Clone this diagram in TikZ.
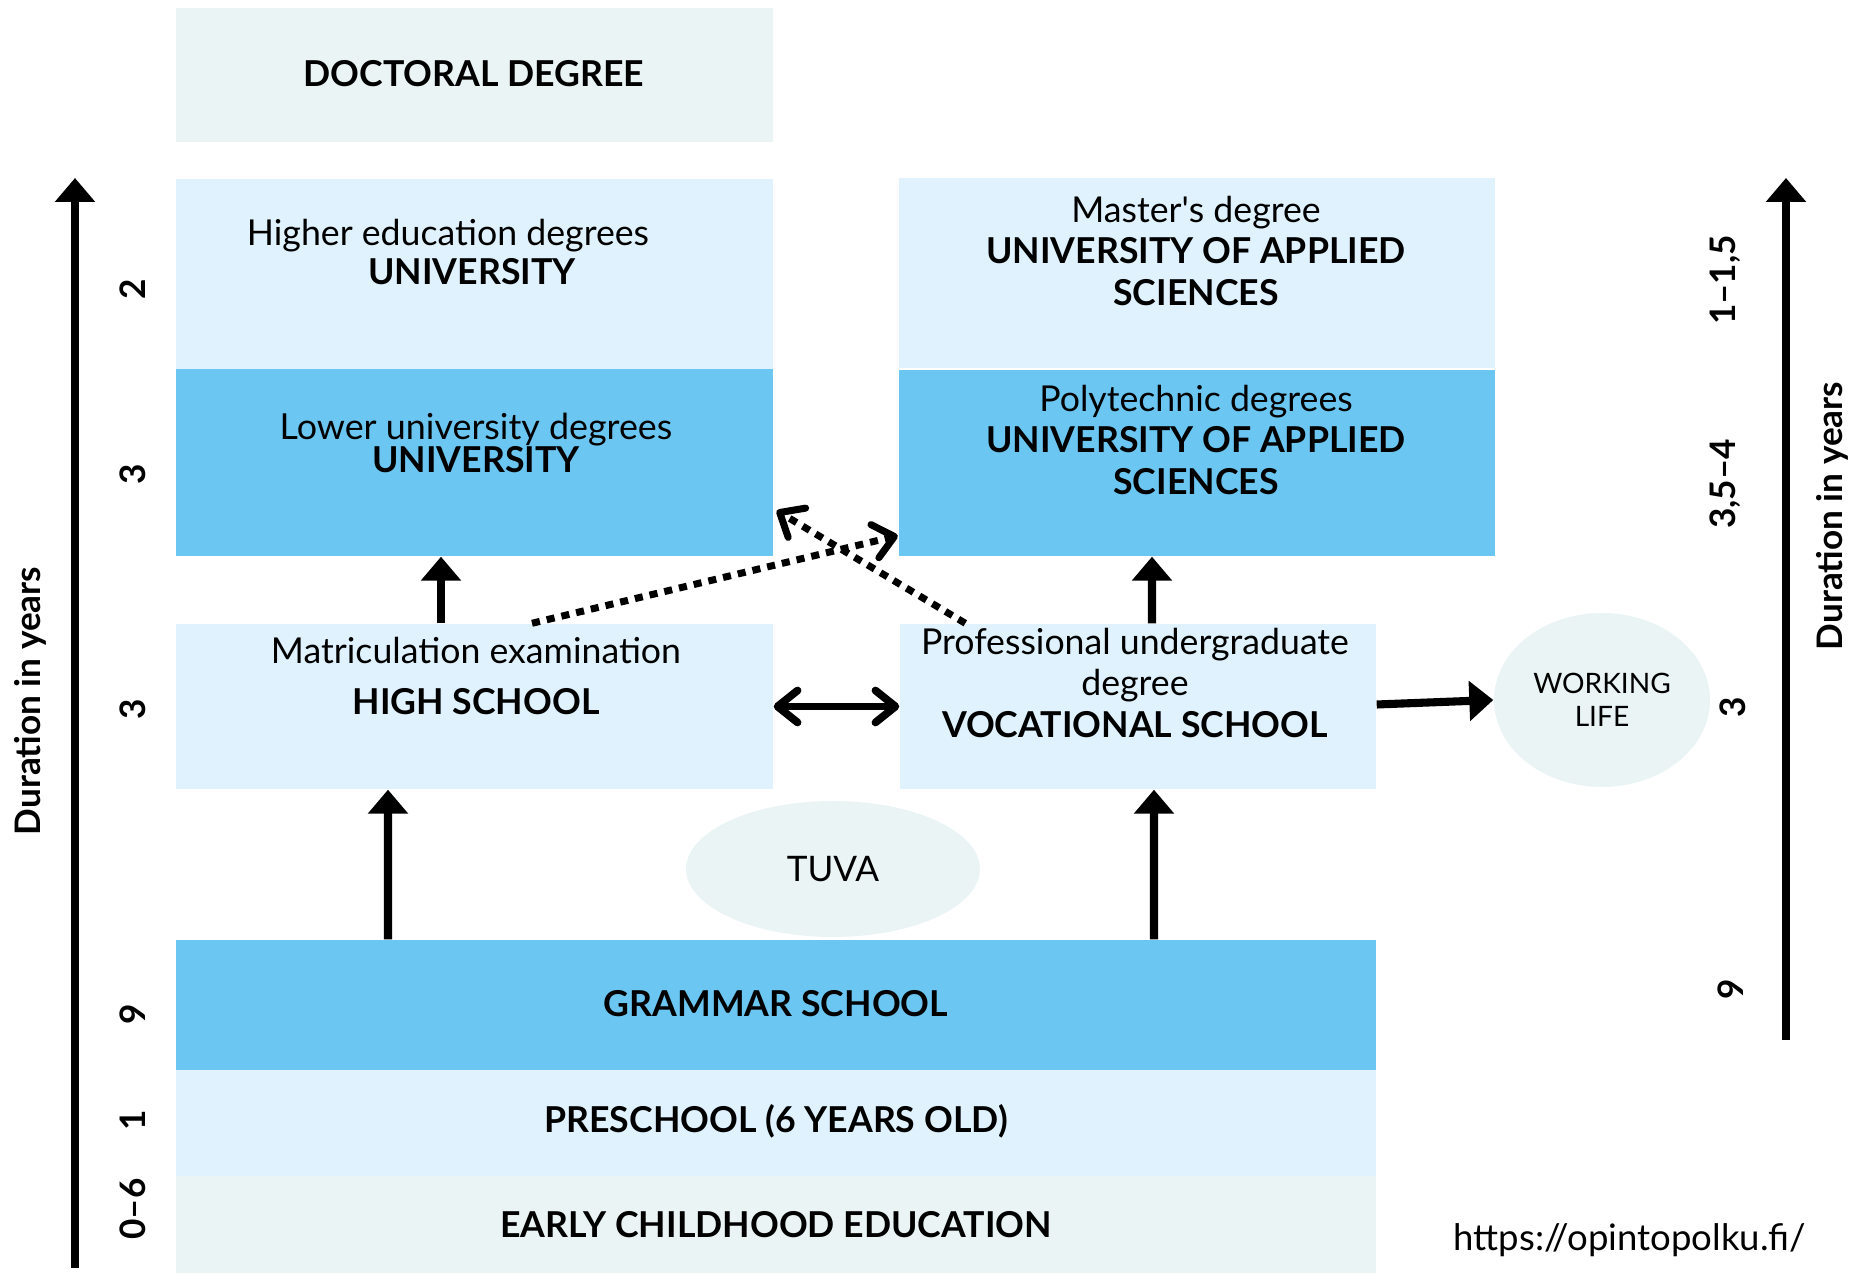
\documentclass[tikz,border=0pt]{standalone}
\usepackage{fontspec}
\setmainfont{Lato}
\usetikzlibrary{arrows.meta,shapes.geometric}
\definecolor{paleteal}{RGB}{234,244,245}
\definecolor{lightblue}{RGB}{224,242,254}
\definecolor{midblue}{RGB}{107,199,242}

\begin{document}
\begin{tikzpicture}[x=0.1mm, y=-0.1mm,
    box/.style={rectangle, inner sep=0pt, minimum width=59.7mm},
    lbl/.style={align=center, font=\fontsize{10.15}{11.9}\selectfont},
    yrs/.style={rotate=90, inner sep=0pt, font=\fontsize{10}{12}\selectfont\bfseries},
    up/.style={line width=2.3pt, -{Triangle[width=3.9mm,length=2.4mm]}},
    both/.style={line width=2.2pt, {Straight Barb[round,width=3.2mm,length=2mm]}-{Straight Barb[round,width=3.2mm,length=2mm]}},
    hop/.style={line width=2pt, dash pattern=on 2.3pt off 2pt, -{Straight Barb[round,width=3.4mm,length=2mm]}}]

    \useasboundingbox (0,0) rectangle (1865,1273);

    \node [box, fill=paleteal, minimum height=13.4mm] (doc) at (474.5, 75) {};
    \node [box, fill=lightblue, minimum height=19mm] (uni) at (474.5, 274) {};
    \node [box, fill=midblue, minimum height=18.7mm] (lowuni) at (474.5, 462.5) {};
    \node [box, fill=lightblue, minimum width=59.6mm, minimum height=19mm] (master) at (1196.5, 273) {};
    \node [box, fill=midblue, minimum width=59.6mm, minimum height=18.6mm] (poly) at (1196.5, 463) {};
    \node [box, fill=lightblue, minimum height=16.5mm] (hs) at (474.5, 706.5) {};
    \node [box, fill=lightblue, minimum width=47.6mm, minimum height=16.5mm] (voc) at (1138, 706.5) {};
    \node [box, fill=midblue, minimum width=120mm, minimum height=13mm] (gram) at (776, 1005) {};
    \node [box, fill=lightblue, minimum width=120mm, minimum height=10.6mm] (pre) at (776, 1123) {};
    \node [box, fill=paleteal, minimum width=120mm, minimum height=9.7mm] (early) at (776, 1224.5) {};
    \node [ellipse, fill=paleteal, minimum width=29.4mm, minimum height=13.6mm, font=\fontsize{10}{12}\selectfont] (tuva) at (833, 869) {TUVA};
    \node [ellipse, fill=paleteal, inner sep=0pt, minimum width=21.6mm, minimum height=17.4mm, align=center, font=\fontsize{8}{9.4}\selectfont] (work) at (1602, 700) {WORKING\\LIFE};

    \node [lbl] (doctxt) at (474, 74) {\textbf{DOCTORAL DEGREE}};
    \node [lbl] (unitxt) at (472, 252) {Higher education degrees\hspace*{4.8mm}\\[-0.9pt] \textbf{UNIVERSITY}};
    \node [lbl] (lowunitxt) at (476, 443) {\fontsize{10.2}{12}\selectfont Lower university degrees\\[-2.5pt] \textbf{UNIVERSITY}};
    \node [lbl] (mastertxt) at (1196, 251) {Master\textquotesingle s degree\\ \textbf{UNIVERSITY OF APPLIED}\\ \textbf{SCIENCES}};
    \node [lbl] (polytxt) at (1196, 440) {Polytechnic degrees\\ \textbf{UNIVERSITY OF APPLIED}\\ \textbf{SCIENCES}};
    \node [lbl] (hstxt) at (476, 676) {Matriculation examination\\[2.5pt] \textbf{HIGH SCHOOL}};
    \node [lbl] (voctxt) at (1135, 683) {Professional undergraduate\\ degree\\ \textbf{VOCATIONAL SCHOOL}};
    \node [lbl] (gramtxt) at (776, 1004) {\textbf{GRAMMAR SCHOOL}};
    \node [lbl] (pretxt) at (776, 1121) {\textbf{PRESCHOOL (6 YEARS OLD)}};
    \node [lbl] (earlytxt) at (776, 1225) {\textbf{EARLY CHILDHOOD EDUCATION}};
    \node [lbl, font=\fontsize{10.4}{12}\selectfont] (url) at (1630, 1240) {https://opintopolku.fi/};

    \node [yrs] (durl) at (30, 701) {Duration in years};
    \node [yrs] (durr) at (1832, 516) {Duration in years};
    \node [yrs] (l2) at (133, 289) {2};
    \node [yrs] (l3a) at (133, 474) {3};
    \node [yrs] (l3b) at (133, 709) {3};
    \node [yrs] (l9) at (133, 1014) {9};
    \node [yrs] (l1) at (133, 1120) {1};
    \node [yrs] (l06) at (133, 1209) {0\textendash6};
    \node [yrs] (r115) at (1725, 280) {1\textendash1,5};
    \node [yrs] (r354) at (1725, 484) {3,5\textendash4};
    \node [yrs] (r3) at (1733, 707) {3};
    \node [yrs] (r9) at (1731, 989) {9};

    \coordinate (lbot) at (75, 1268);
    \coordinate (ltop) at (75, 178);
    \coordinate (rbot) at (1786, 1040);
    \coordinate (rtop) at (1786, 178);

    \draw [up] (lbot) to (ltop);
    \draw [up] (rbot) to (rtop);
    \draw [up] ([xshift=-3.35mm]hs.north) to ([xshift=-3.35mm]lowuni.south);
    \draw [up] ([xshift=1.4mm]voc.north) to ([xshift=-4.45mm]poly.south);
    \draw [up] ([xshift=-38.8mm]gram.north) to ([xshift=-8.65mm]hs.south);
    \draw [up] ([xshift=37.8mm]gram.north) to ([xshift=1.6mm]voc.south);
    \draw [up] ([yshift=0.2mm]voc.east) to (work.west);
    \draw [both] (hs.east) to (voc.west);
    \draw [hop] ([xshift=5.75mm]hs.north) to ([yshift=2.1mm]poly.south west);
    \draw [hop] ([xshift=6.6mm]voc.north west) to ([xshift=0.3mm,yshift=4.6mm]lowuni.south east);

\end{tikzpicture}
\end{document}
